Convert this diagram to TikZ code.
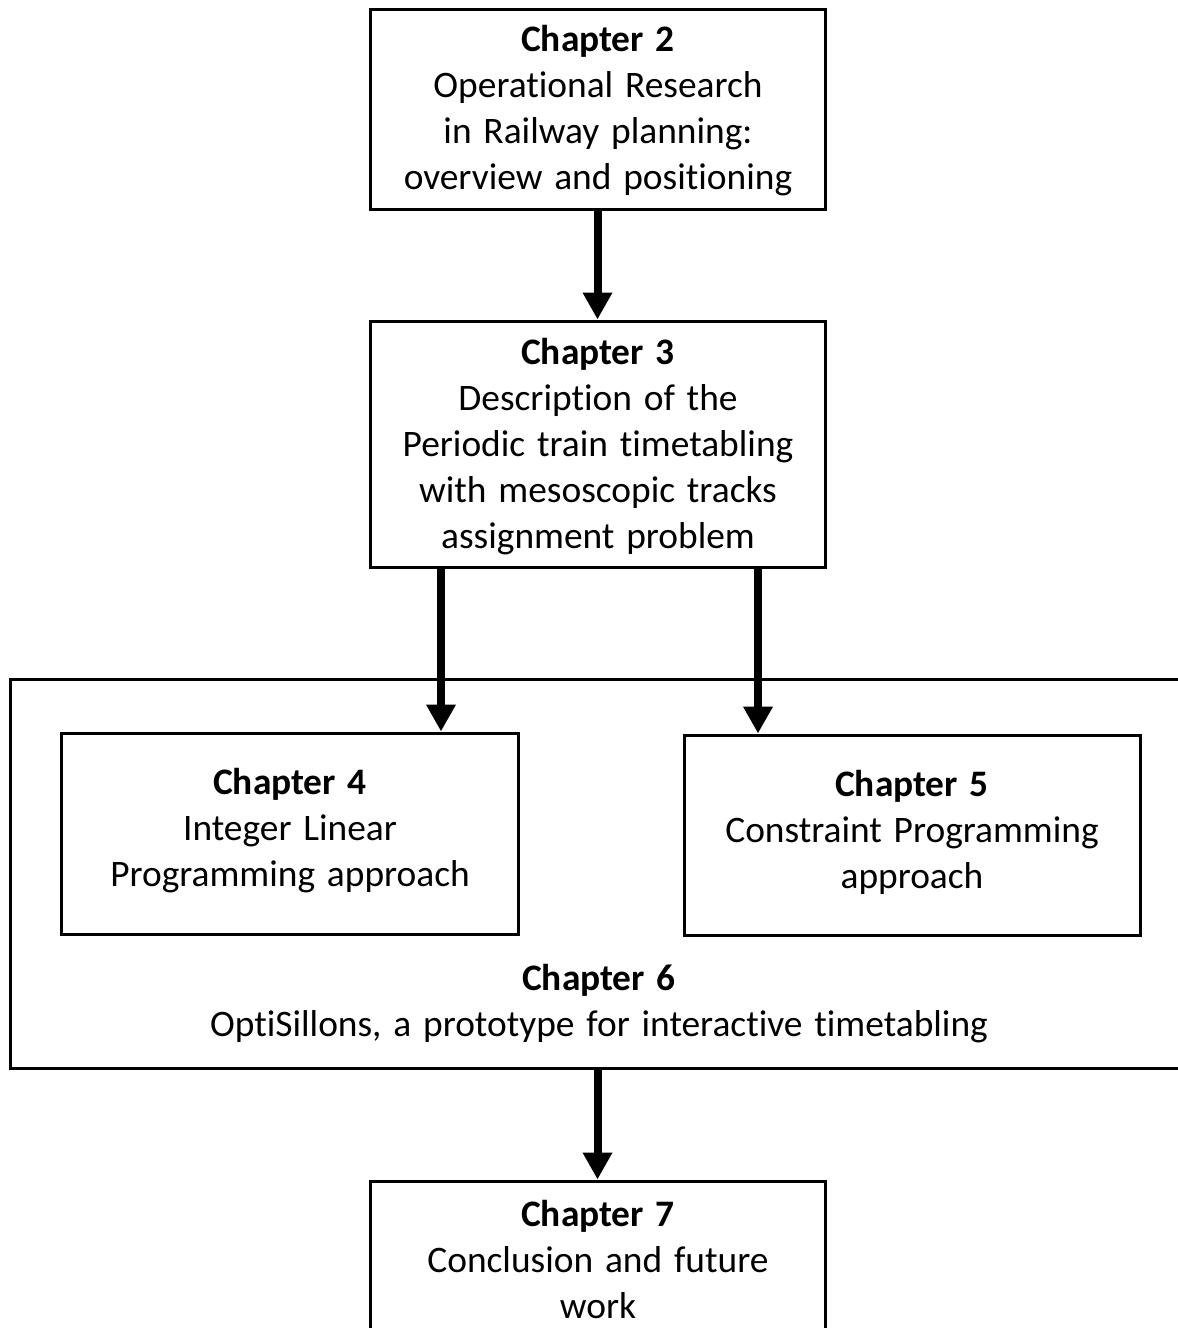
\documentclass[tikz,border=0pt]{standalone}
\usepackage{fontspec}
\setmainfont{Carlito}[Ligatures=NoCommon, WordSpace=1.4]
\usetikzlibrary{arrows.meta}
\begin{document}
\begin{tikzpicture}[x=0.5pt,y=-0.5pt,
  chbox/.style={draw, line width=1.5pt, inner sep=0pt},
  chtext/.style={align=center, inner sep=0pt, font=\fontsize{18.7}{23}\selectfont},
  flow/.style={line width=4pt, -{Triangle[width=14pt,length=13.5pt]}}]
  \clip (0,0) rectangle (1178,1328);
  \fill[white] (0,0) rectangle (1178,1328);

  % frames
  \node[chbox, minimum width=227.5pt, minimum height=100pt] (ch2) at (597.5,109) {};
  \node[chbox, minimum width=227.5pt, minimum height=123pt] (ch3) at (597.5,444) {};
  \node[chbox, minimum width=595pt, minimum height=194.5pt] (ch6box) at (605,873.5) {};
  \node[chbox, minimum width=228.5pt, minimum height=100.5pt] (ch4) at (289.5,833.5) {};
  \node[chbox, minimum width=228pt, minimum height=100pt] (ch5) at (912,835) {};
  \node[chbox, minimum width=227.5pt, minimum height=100pt] (ch7) at (597.5,1281) {};

  % titles
  \node[chtext] (t2) at (598,111)
    {\textbf{Chapter 2}\\Operational Research\\in Railway planning:\\overview and positioning};
  \node[chtext] (t3) at (598,447)
    {\textbf{Chapter 3}\\Description of the\\Periodic train timetabling\\with mesoscopic tracks\\assignment problem};
  \node[chtext] (t4) at (290,830.5)
    {\textbf{Chapter 4}\\Integer Linear\\Programming approach};
  \node[chtext] (t5) at (912,832.5)
    {\textbf{Chapter 5}\\Constraint Programming\\approach};
  \node[chtext] (t6) at (599,1004)
    {\textbf{Chapter 6}\\OptiSillons, a prototype for interactive timetabling};
  \node[chtext] (t7) at (598,1259.5)
    {\textbf{Chapter 7}\\Conclusion and future\\work};

  \coordinate (left) at (441,0);
  \coordinate (right) at (758,0);

  \draw[flow] (ch2.south) -- (ch3.north);
  \draw[flow] (ch3.south -| left) -- (ch4.north -| left);
  \draw[flow] (ch3.south -| right) -- (ch5.north -| right);
  \draw[flow] (ch6box.south -| ch7.north) -- (ch7.north);
\end{tikzpicture}
\end{document}
